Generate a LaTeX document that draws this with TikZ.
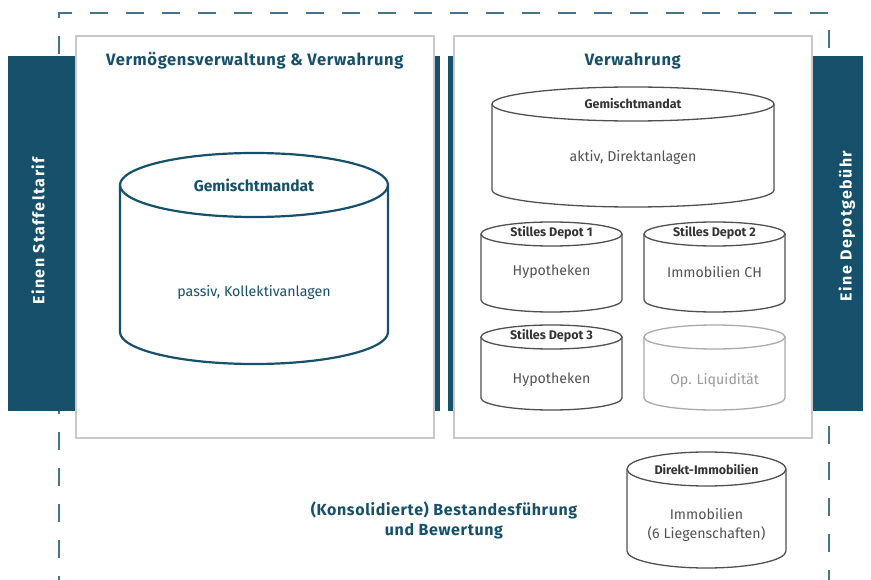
\documentclass[tikz,border=0pt]{standalone}
\usepackage{fontspec}
\setmainfont{Fira Sans}
\newfontfamily\sperrsatz[LetterSpace=9]{Fira Sans}
\newfontfamily\titelsatz[LetterSpace=4]{Fira Sans}
\usepackage{tikz}
\usetikzlibrary{positioning,calc}
\definecolor{petrol}{HTML}{17506A}
\definecolor{rahmen}{HTML}{C9C9C9}
\definecolor{tonne}{HTML}{505050}
\definecolor{blass}{HTML}{AAAAAA}

\newcommand{\drawcyl}[4]{%
	\draw[#1] ($(#2.north west)+(0,#4)$) -- ($(#2.south west)+(0,-#4)$)
		arc[start angle=180,end angle=0,x radius=#3,y radius=#4]
		-- ($(#2.north east)+(0,#4)$);
	\draw[#1] ($(#2.north)+(0,#4)$) ellipse[x radius=#3,y radius=#4];
}

\begin{document}
\begin{tikzpicture}[x=1pt,y=-1pt,
		band/.style={fill=petrol,inner sep=0pt,anchor=north west},
		panel/.style={draw=rahmen,line width=1.6pt,fill=white,inner sep=0pt,anchor=north west},
		cylbox/.style={inner sep=0pt,outer sep=0pt},
		paneltitle/.style={text=petrol,font=\titelsatz\fontsize{16.5}{20}\selectfont\bfseries,align=center},
		sidelabel/.style={text=white,rotate=90,font=\sperrsatz\fontsize{16}{18}\selectfont\bfseries},
		cylhead/.style={text=black!80,font=\fontsize{12.5}{14}\selectfont\bfseries},
		cyltext/.style={text=black!68,font=\fontsize{14.2}{19}\selectfont,align=center}]
		\useasboundingbox (0,0) rectangle (871,580);
		\draw[petrol!80,line width=1.6pt,dash pattern=on 18pt off 18pt,dash phase=14pt] (59,580) -- (59,13) -- (829,13) -- (829,580);
		\node[band,minimum width=432pt,minimum height=355pt] (bandL) at (8,56) {};
		\node[band,minimum width=415pt,minimum height=355pt] (bandR) at (448,56) {};
		\node[panel,minimum width=358pt,minimum height=402pt] (boxL) at (75,35) {};
		\node[panel,minimum width=358pt,minimum height=402pt] (boxR) at (453,35) {};
		\node[paneltitle] (titleL) at ($(boxL.north)+(0,26)$) {Vermögensverwaltung \& Verwahrung};
		\node[paneltitle] (titleR) at ($(boxR.north)+(0,26)$) {Verwahrung};
		\node[sidelabel] (tarif) at (38,231) {Einen Staffeltarif};
		\node[sidelabel] (gebuehr) at (847,226) {Eine Depotgebühr};
		\node[cylbox,minimum width=268pt,minimum height=211pt] (mandatL) at (254,258.5) {};
		\drawcyl{petrol,line width=2.2pt}{mandatL}{134}{32}
		\node[cylhead,text=petrol,font=\fontsize{15.5}{17}\selectfont\bfseries] (kopfL) at ($(mandatL.north)+(0,32)$) {Gemischtmandat};
		\node[cyltext,text=petrol,font=\fontsize{14.2}{17}\selectfont] (passiv) at (254,292) {passiv, Kollektivanlagen};
		\node[cylbox,minimum width=282pt,minimum height=120pt] (mandatR) at (633,147) {};
		\drawcyl{tonne,line width=1.3pt}{mandatR}{141}{17}
		\node[cylhead] (kopfR) at ($(mandatR.north)+(0,17)$) {Gemischtmandat};
		\node[cyltext] (aktiv) at (633,157) {aktiv, Direktanlagen};
		\node[cylbox,minimum width=141pt,minimum height=90pt] (depot1) at (551.5,267) {};
		\node[cylbox,minimum width=141pt,minimum height=90pt] (depot2) at (714.5,267) {};
		\node[cylbox,minimum width=141pt,minimum height=85pt] (depot3) at (551.5,367.5) {};
		\node[cylbox,minimum width=141pt,minimum height=85pt] (liqui) at (714.5,367.5) {};
		\drawcyl{tonne,line width=1.3pt}{depot1}{70.5}{12}
		\drawcyl{tonne,line width=1.3pt}{depot2}{70.5}{12}
		\drawcyl{tonne,line width=1.3pt}{depot3}{70.5}{12}
		\drawcyl{blass,line width=1.3pt}{liqui}{70.5}{12}
		\node[cylhead] (kopf1) at ($(depot1.north)+(0,11)$) {Stilles Depot 1};
		\node[cylhead] (kopf2) at ($(depot2.north)+(0,11)$) {Stilles Depot 2};
		\node[cylhead] (kopf3) at ($(depot3.north)+(0,11)$) {Stilles Depot 3};
		\node[cyltext] (hypo1) at (551.5,272) {Hypotheken};
		\node[cyltext] (immoCH) at (714.5,272) {Immobilien CH};
		\node[cyltext] (hypo3) at (551.5,380) {Hypotheken};
		\node[cyltext,text=black!40] (liquitext) at (714.5,380) {Op. Liquidität};
		\node[cylbox,minimum width=159pt,minimum height=116pt] (direkt) at (706.5,510) {};
		\drawcyl{tonne,line width=1.3pt}{direkt}{79.5}{17}
		\node[cylhead] (kopfD) at ($(direkt.north)+(0,18)$) {Direkt-Immobilien};
		\node[cyltext] (liegen) at (706.5,524.5) {Immobilien\\(6 Liegenschaften)};
		\node[paneltitle,font=\titelsatz\fontsize{16}{20}\selectfont\bfseries] (bestand) at (444,520) {(Konsolidierte) Bestandesführung\\und Bewertung};
	\end{tikzpicture}
\end{document}
